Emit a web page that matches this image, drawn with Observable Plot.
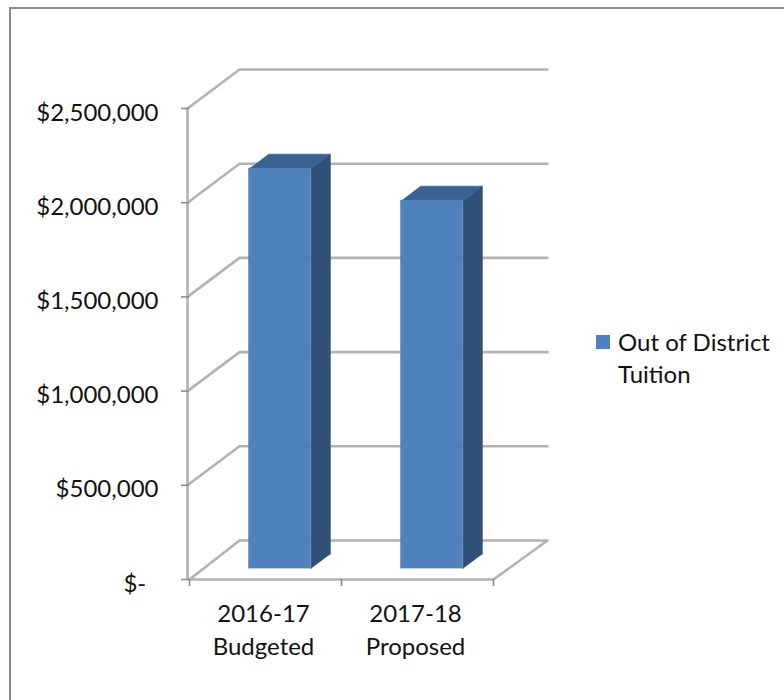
<!DOCTYPE html>
<html>
<head>
<meta charset="utf-8">
<script src="https://cdn.jsdelivr.net/npm/d3@7"></script>
<script src="https://cdn.jsdelivr.net/npm/@observablehq/plot@0.6"></script>
<style>
  html, body { margin: 0; padding: 0; background: #fff; }
  #chart { position: relative; width: 784px; height: 700px; overflow: hidden; font-family: Lato, sans-serif; color: #111; }
  #chart svg { position: absolute; left: 0; top: 0; display: block; }
  #border { position: absolute; left: 9px; top: 7px; width: 790px; height: 720px; border: 2px solid #8c8c8c; box-sizing: border-box; }
  #legend { position: absolute; left: 596px; top: 326px; width: 188px; display: grid; grid-template-columns: 14px auto; column-gap: 8px; font-size: 24px; line-height: 32px; white-space: nowrap; }
  #legend i { display: block; width: 14px; height: 14px; margin-top: 9px; background: #4f81bd; }
</style>
</head>
<body>
<div id="chart"><div id="border"></div></div>
<script>
// Budget figures
const categories = ["2016-17\nBudgeted", "2017-18\nProposed"];
const tuition = [2123000, 1953000];
const seriesName = "Out of District\nTuition";
const axisTicks = [0, 500000, 1000000, 1500000, 2000000, 2500000];

const faceColor = "#4f81bd", topColor = "#3a6290", sideColor = "#304f79";
const gridColor = "#b2b2b2", tickColor = "#8a8a8a";

// Oblique depth: one unit of z shifts a point along x (category units) and y (dollars).
const depthX = 0.342, depthY = 207000;
const project = (x, v, z) => ({x: x + z * depthX, y: v + z * depthY});

// Bar footprint: half width in category units and near/far depth.
const halfWidth = 0.204, zNear = 0.28, zFar = 0.65;

const bars = tuition.map((v, i) => ({name: categories[i], v, c: i + 0.5}));

// One closed polygon per bar for each visible oblique face.
const topFaces = bars.flatMap(b => [
  project(b.c - halfWidth, b.v, zNear), project(b.c + halfWidth, b.v, zNear),
  project(b.c + halfWidth, b.v, zFar), project(b.c - halfWidth, b.v, zFar)
].map(p => ({...p, id: b.name})));
const sideFaces = bars.flatMap(b => [
  project(b.c + halfWidth, 0, zNear), project(b.c + halfWidth, b.v, zNear),
  project(b.c + halfWidth, b.v, zFar), project(b.c + halfWidth, 0, zFar)
].map(p => ({...p, id: b.name})));

// Left-wall diagonal and back-wall line for every gridline above the floor.
const wallX = -0.013, backRight = 2.013;
const gridPaths = axisTicks.slice(1).flatMap(v => [
  project(wallX, v, 0), project(wallX, v, 1), project(backRight, v, 1)
].map(p => ({...p, id: v})));
const floorPath = [
  project(0, 0, 0), project(2, 0, 0), project(backRight, 0, 1), project(wallX, 0, 1), project(0, 0, 0)
];

const fmt = v => v === 0 ? "$-\u00a0\u00a0" : "$" + d3.format(",")(v);

const plot = Plot.plot({
  width: 784,
  height: 700,
  marginLeft: 189,
  marginRight: 291,
  marginTop: 108,
  marginBottom: 121,
  style: {fontFamily: "Lato, sans-serif", background: "transparent", color: "#111"},
  x: {domain: [0, 2]},
  y: {domain: [0, 2500000]},
  marks: [
    Plot.line(gridPaths, {x: "x", y: "y", z: "id", stroke: gridColor, strokeWidth: 2.6}),
    Plot.line(floorPath, {x: "x", y: "y", stroke: gridColor, strokeWidth: 2.6}),
    Plot.ruleX([wallX], {y1: 0, y2: 2500000, stroke: gridColor, strokeWidth: 2.6}),
    // Tick marks and labels are separate so the labels can sit just under their ticks.
    Plot.axisY({
      ticks: axisTicks, text: null, tickSize: 8,
      stroke: tickColor, strokeWidth: 1.6, label: null
    }),
    Plot.axisY({
      ticks: axisTicks, tickFormat: fmt, tickSize: 0, tickPadding: 31, dy: 4.5, fontSize: 24,
      label: null, fill: "#111"
    }),
    Plot.axisX({
      ticks: [0, 1, 2], tickFormat: () => "", tickSize: 7,
      stroke: tickColor, strokeWidth: 1.6, label: null
    }),
    Plot.line(sideFaces, {x: "x", y: "y", z: "id", fill: sideColor, stroke: sideColor, strokeWidth: 0.7}),
    Plot.line(topFaces, {x: "x", y: "y", z: "id", fill: topColor, stroke: topColor, strokeWidth: 0.7}),
    Plot.rect(bars.map(b => ({
      x1: project(b.c - halfWidth, 0, zNear).x,
      x2: project(b.c + halfWidth, 0, zNear).x,
      y1: project(0, 0, zNear).y,
      y2: project(0, b.v, zNear).y
    })), {x1: "x1", x2: "x2", y1: "y1", y2: "y2", fill: faceColor, stroke: faceColor, strokeWidth: 0.5}),
    Plot.text(bars, {
      x: "c", y: 0, text: "name", dx: -2, dy: 19, lineAnchor: "top", lineHeight: 1.38,
      fontSize: 24, fill: "#111"
    })
  ]
});
const host = document.getElementById("chart");
host.appendChild(plot);

// Series key beside the plot
const legend = document.createElement("div");
legend.id = "legend";
legend.innerHTML = `<i></i><span>${seriesName.replace("\n", "<br>")}</span>`;
host.appendChild(legend);
</script>
</body>
</html>
